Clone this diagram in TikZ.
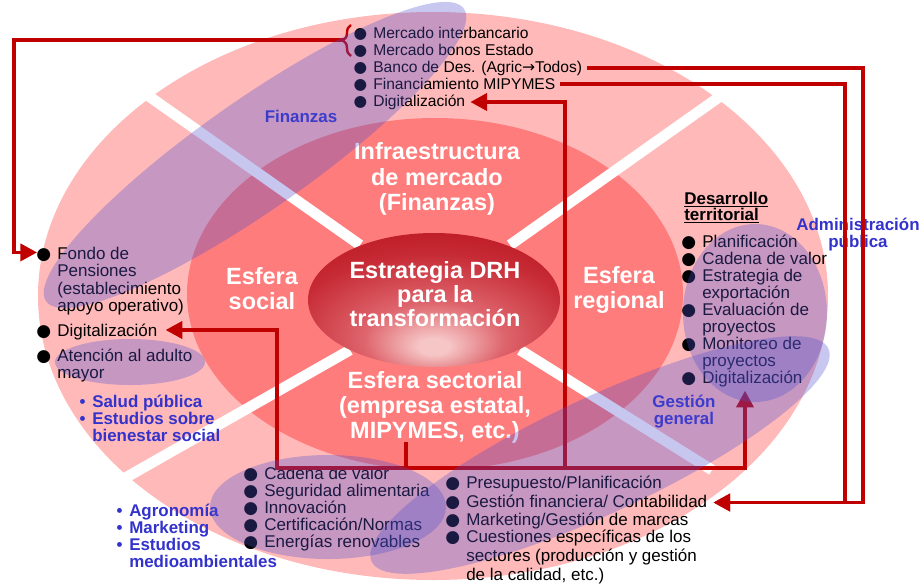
\documentclass[tikz,border=0pt]{standalone}
\usepackage{fontspec}
\setmainfont{Liberation Sans}
\newfontfamily\symf{DejaVu Sans}
\usetikzlibrary{arrows.meta,positioning,decorations.pathreplacing}

\definecolor{ringpink}{RGB}{255,185,185}
\definecolor{midsalmon}{RGB}{255,124,124}
\definecolor{coredark}{RGB}{180,12,22}
\definecolor{coredeep}{RGB}{198,42,52}
\definecolor{coremid}{RGB}{222,100,108}
\definecolor{corelight}{RGB}{246,198,198}
\definecolor{lav}{RGB}{80,80,207}
\definecolor{labblue}{RGB}{51,51,204}
\definecolor{linkred}{RGB}{192,0,0}

\pgfdeclareradialshading{coreglow}{\pgfpoint{0bp}{-18bp}}{%
  color(0bp)=(corelight); color(3bp)=(corelight); color(14bp)=(coremid);
  color(29bp)=(coredeep); color(46bp)=(coredark); color(80bp)=(coredark)}

% bullets hang to the left of the text start
\newcommand{\bl}{\llap{{\symf ●}\hspace{4.5pt}}}
\newcommand{\sbl}{\llap{•\hspace{5pt}}}

\begin{document}
\begin{tikzpicture}[x=0.75pt, y=-0.75pt,
  itm/.style={anchor=base west, inner sep=0pt, align=left,
              font=\fontsize{12.75}{13.2}\selectfont},
  fin/.style={itm, font=\fontsize{11.7}{12.75}\selectfont},
  blu/.style={inner sep=0pt, align=left, text=labblue,
              font=\fontsize{12.7}{12.75}\selectfont\bfseries},
  wht/.style={inner sep=0pt, align=center, text=white,
              font=\fontsize{17.6}{18.8}\selectfont\bfseries},
  gap/.style={white, line width=8pt},
  link/.style={draw=linkred, line width=2.3pt, line join=miter, line cap=rect},
  linkto/.style={link, -{Triangle[length=12.5pt, width=13pt]}},
  blob/.style={fill=lav, fill opacity=0.32},
]
\useasboundingbox (0,0) rectangle (921,583);

% rings and the four dividing gaps
\fill[ringpink] (433,296) ellipse [x radius=395, y radius=284];
\fill[midsalmon] (435,294) ellipse [x radius=248, y radius=176];
\draw[gap] (360,245) -- (140,90);
\draw[gap] (510,245) -- (722,95);
\draw[gap] (350,350) -- (125,478);
\draw[gap] (520,350) -- (712,470);
\shade[shading=coreglow] (434,300) ellipse [x radius=126, y radius=67];

% sphere titles
\node[wht, font=\fontsize{17.6}{19.2}\selectfont\bfseries] (infra) at (437,179)
  {Infraestructura\\de mercado\\(Finanzas)};
\node[wht] (social) at (262,289) {Esfera\\social};
\node[wht] (region) at (619,290) {Esfera\\regional};
\node[wht, font=\fontsize{17.6}{18.2}\selectfont\bfseries] (core) at (435,294)
  {Estrategia DRH\\para la\\transformación};
\node[wht] (sector) at (435,407) {Esfera sectorial\\(empresa estatal,\\MIPYMES, etc.)};

% finance items
\node[fin] (fin1) at (373,38.5) {\bl Mercado interbancario};
\node[fin] (fin2) at (373,55.5) {\bl Mercado bonos Estado};
\node[fin] (fin3) at (373,72.5) {\bl Banco de Des. (Agric{\symf →}Todos)};
\node[fin] (fin4) at (373,89.5) {\bl Financiamiento MIPYMES};
\node[fin] (fin5) at (373,106.5) {\bl Digitalización};

% social items (base = last line)
\node[itm] (pen) at (57,311.8) {\bl Fondo de\\Pensiones\\(establecimiento\\apoyo operativo)};
\node[itm] (socdig) at (57,336) {\bl Digitalización};
\node[itm] (elder) at (57,378.6) {\bl Atención al adulto\\mayor};

% regional items
\node[itm, font=\fontsize{12.75}{12}\selectfont\bfseries] (terhead) at (684,220)
  {\underline{Desarrollo}\\\underline{territorial}};
\node[itm] (ter1) at (702,247) {\bl Planificación};
\node[itm] (ter2) at (702,264) {\bl Cadena de valor};
\node[itm, font=\fontsize{12.75}{12.75}\selectfont] (ter3) at (702,298) {\bl Estrategia de\\exportación};
\node[itm, font=\fontsize{12.75}{12.75}\selectfont] (ter4) at (702,332) {\bl Evaluación de\\proyectos};
\node[itm, font=\fontsize{12.75}{12.75}\selectfont] (ter5) at (702,366) {\bl Monitoreo de\\proyectos};
\node[itm] (ter6) at (702,383) {\bl Digitalización};

% sector items
\node[itm] (val) at (264,479) {\bl Cadena de valor};
\node[itm] (food) at (264,496) {\bl Seguridad alimentaria};
\node[itm] (innov) at (264,513) {\bl Innovación};
\node[itm] (cert) at (264,530) {\bl Certificación/Normas};
\node[itm] (energy) at (264,547) {\bl Energías renovables};

% management items
\node[itm] (budget) at (466,488) {\bl Presupuesto/Planificación};
\node[itm] (acct) at (466,507) {\bl Gestión financiera/ Contabilidad};
\node[itm] (brand) at (466,525) {\bl Marketing/Gestión de marcas};
\node[itm, font=\fontsize{12.75}{13.9}\selectfont] (issues) at (466,580)
  {\bl Cuestiones específicas de los\\sectores (producción y gestión\\de la calidad, etc.)};

% disciplines
\node[blu] (finlab) at (301,116) {Finanzas};
\node[blu, align=center] (admin) at (858,235) {Administración\\pública};
\node[blu, align=center] (mgmt) at (684,412) {Gestión\\general};
\node[blu, anchor=base west] (health) at (92,441) {\sbl Salud pública\\\sbl Estudios sobre\\bienestar social};
\node[blu, anchor=base west] (agro) at (129,567) {\sbl Agronomía\\\sbl Marketing\\\sbl Estudios\\medioambientales};

% links
\draw[draw=linkred, line width=1.8pt, decorate, decoration={brace, amplitude=6pt}]
  (351,56) -- (351,25);
\coordinate (brc) at (342,40);
\coordinate (railL) at (14,40);
\coordinate (railA) at (863,68);
\coordinate (railB) at (845,84);
\coordinate (hub) at (406,468);
\coordinate (busL) at (277,468);
\coordinate (busM) at (565,468);
\coordinate (busR) at (745,468);

\draw[linkto] (brc) -- (railL) |- ([shift={(-20,6)}]pen.north west);
\draw[linkto] ([shift={(6,-4.5)}]fin3.base east) -- (railA)
  |- ([shift={(6,-4.5)}]acct.base east);
\draw[linkto] ([shift={(6,-5.5)}]fin4.base east) -- (railB)
  |- ([shift={(6,-4.5)}]acct.base east);
\draw[link] (hub |- sector.south) -- (hub);
\draw[link] (busL) -- (busR);
\draw[linkto] (busL) |- ([shift={(8,-6)}]socdig.base east);
\draw[linkto] (busM) |- ([shift={(5,-4.5)}]fin5.base east);
\draw[linkto] (busR) -- ([yshift=-3pt]busR |- ter6.south);

% overlapping discipline fields
\fill[blob, rotate around={35:(255,155)}] (255,155) ellipse [x radius=255, y radius=55];
\fill[blob] (130,362) ellipse [x radius=75, y radius=23];
\fill[blob] (755,313) ellipse [x radius=72, y radius=89];
\fill[blob, rotate around={25:(600,455)}] (600,455) ellipse [x radius=252, y radius=58];
\fill[blob] (328,507) ellipse [x radius=118, y radius=52];

\end{tikzpicture}
\end{document}
